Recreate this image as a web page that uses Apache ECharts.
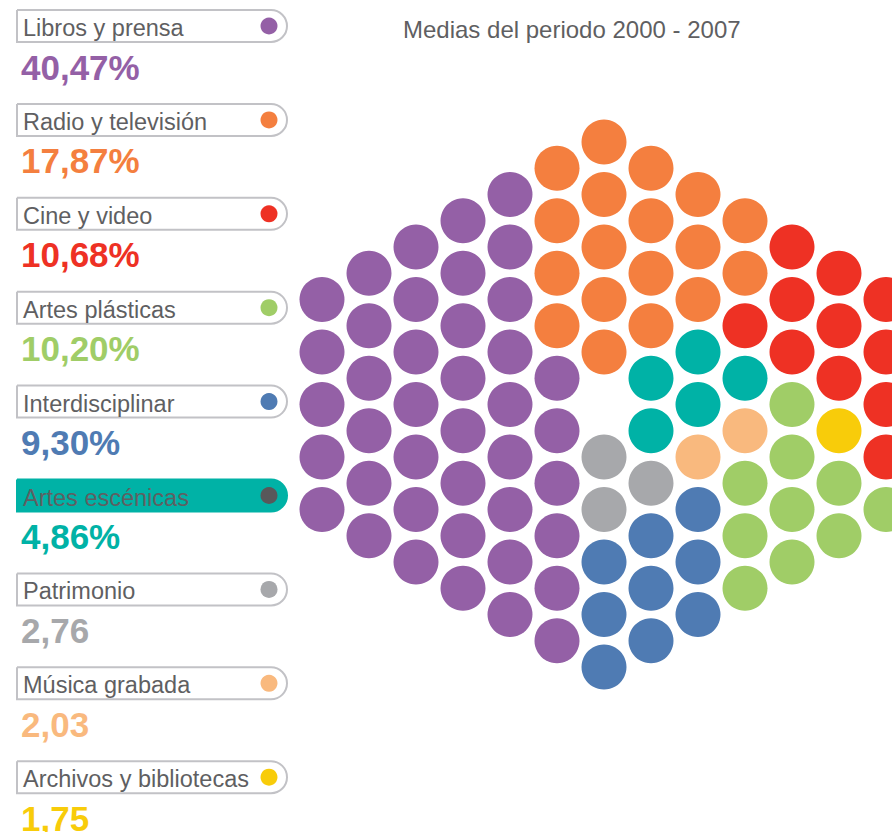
<!DOCTYPE html>
<html>
<head>
<meta charset="utf-8">
<title>Medias del periodo 2000 - 2007</title>
<script src="https://cdn.jsdelivr.net/npm/echarts@6/dist/echarts.min.js"></script>
<style>
    html, body { margin: 0; padding: 0; background: #fff; }
    #chart { width: 892px; height: 832px; }
</style>
</head>
<body>
<div id="chart"></div>
<script>
// Categorías y valores (medias 2000 - 2007)
const categories = ["Libros y prensa", "Radio y televisión", "Cine y video", "Artes plásticas",
    "Interdisciplinar", "Artes escénicas", "Patrimonio", "Música grabada", "Archivos y bibliotecas"];
const shares = ["40,47%", "17,87%", "10,68%", "10,20%", "9,30%", "4,86%", "2,76", "2,03", "1,75"];
const codes = ["L", "R", "C", "A", "I", "E", "P", "M", "B"];

// Rejilla hexagonal: una cadena por columna, de arriba abajo ("." = hueco)
const columns = [
    "LLLLL",
    "LLLLLL",
    "LLLLLLL",
    "LLLLLLLL",
    "LLLLLLLLL",
    "RRRRLLLLLL",
    "RRRRR.PPIII",
    "RRRREEPIII",
    "RRREEMIII",
    "RRCEMAAA",
    "CCCAAAA",
    "CCCBAA",
    "CCCCA"
];

const colors = ["#9460a6", "#f47f3f", "#ee3124", "#a0cd67", "#4f7bb3", "#00b2a6", "#a7a8ab", "#f9b97e", "#f8cc0a"];
const highlighted = 5;

document.addEventListener("DOMContentLoaded", () => {
    const chart = echarts.init(document.getElementById("chart"), null, { renderer: "svg" });

    // puntos por categoría: x = columna, y = media fila (offset hexagonal)
    const mid = (columns.length - 1) / 2;
    const points = categories.map(() => []);
    columns.forEach((col, c) => {
        const start = Math.abs(c - mid);
        col.split("").forEach((ch, i) => {
            const idx = codes.indexOf(ch);
            if (idx >= 0) points[idx].push([c, start + 2 * i]);
        });
    });

    const series = categories.map((name, i) => ({
        name: name,
        type: "scatter",
        symbol: "circle",
        symbolSize: 45,
        silent: true,
        clip: false,
        itemStyle: { color: colors[i], opacity: 1 },
        data: points[i]
    }));

    // leyenda lateral
    const font = "Liberation Sans, Arial, sans-serif";
    const graphic = [{
        type: "text",
        left: 403,
        top: 17,
        style: { text: "Medias del periodo 2000 - 2007", font: "24px " + font, fill: "#5f5f62" }
    }];
    categories.forEach((name, i) => {
        const top = 10 + i * 93.9;
        const hl = i === highlighted;
        graphic.push({
            type: "rect",
            shape: { x: 17, y: top, width: 270, height: 32, r: [0, 16, 16, 0] },
            style: { fill: hl ? colors[i] : "#fff", stroke: hl ? colors[i] : "#c2c2c6", lineWidth: 2 }
        });
        graphic.push({
            type: "circle",
            shape: { cx: 269, cy: top + 16, r: 8.5 },
            style: { fill: hl ? "#58585a" : colors[i] }
        });
        graphic.push({
            type: "text",
            x: 23,
            y: top + 18,
            style: { text: name, font: "23.5px " + font, fill: "#5f5f62", verticalAlign: "middle" }
        });
        graphic.push({
            type: "text",
            x: 21,
            y: top + 57,
            style: { text: shares[i], font: "bold 35px " + font, fill: colors[i], verticalAlign: "middle" }
        });
    });

    chart.setOption({
        backgroundColor: "#fff",
        animation: false,
        grid: { left: 275, top: 89.5, width: 658, height: 630, outerBoundsMode: "none", containLabel: false },
        xAxis: { type: "value", min: -1, max: 13, show: false },
        yAxis: { type: "value", min: -2, max: 22, inverse: true, show: false },
        graphic: graphic,
        series: series
    });
});
</script>
</body>
</html>
